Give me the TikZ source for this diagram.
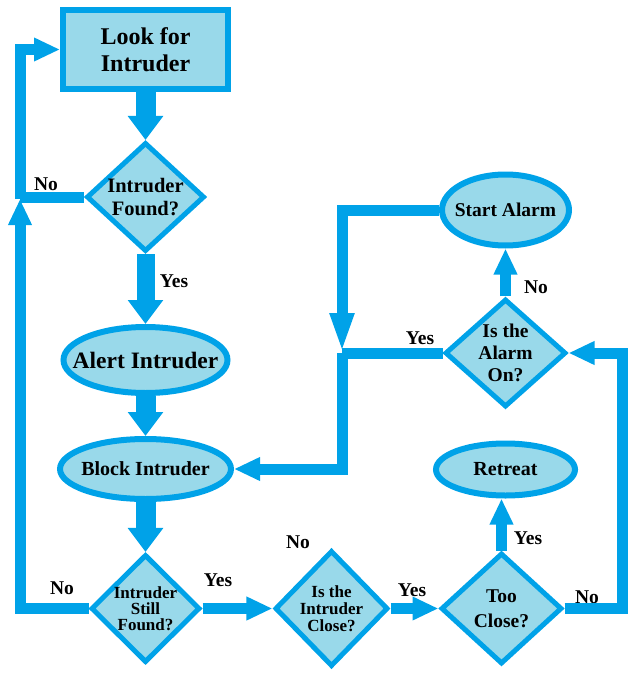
\documentclass[tikz,border=0pt]{standalone}
\usepackage{fontspec}
\setmainfont{Liberation Serif}
\usepackage{tikz}
\usetikzlibrary{shapes.geometric,arrows.meta,positioning,calc}
\definecolor{paintblue}{RGB}{0,162,232}
\definecolor{paintfill}{RGB}{153,217,234}
\newcommand{\fsz}[2]{\fontsize{#1}{#2}\selectfont\bfseries}
\tikzset{
  stepbox/.style={rectangle,draw=paintblue,line width=6pt,fill=paintfill,align=center,inner sep=0pt},
  oval/.style={ellipse,draw=paintblue,line width=6pt,fill=paintfill,align=center,inner ysep=0pt,inner xsep=-16pt},
  decide/.style={diamond,draw=paintblue,line width=5pt,fill=paintfill,align=center,inner sep=0pt},
  lbl/.style={font=\fsz{19.5}{21}},
  bigflow/.style={-{Triangle[length=24pt,width=34pt]},line width=20pt,draw=paintblue},
  flow/.style={-{Triangle[length=26pt,width=22pt]},line width=11pt,draw=paintblue},
  flowline/.style={line width=11pt,draw=paintblue},
}

\begin{document}
\begin{tikzpicture}[x=1pt,y=-1pt]
  \useasboundingbox (0,0) rectangle (628,674);
  \node[stepbox,minimum width=165pt,minimum height=79pt,font=\fsz{24}{27}] (look) at (145.5,49.5) {Look for\\Intruder};
  \node[decide,minimum width=118pt,minimum height=109pt,aspect=1.08,font=\fsz{20.5}{23},below=48pt of look] (found) {Intruder\\Found?};
  \node[oval,minimum width=164pt,minimum height=66pt,font=\fsz{23.5}{26},below=70pt of found] (alert) {Alert Intruder};
  \node[oval,minimum width=171pt,minimum height=60pt,font=\fsz{20}{22},below=40pt of alert] (block) {Block Intruder};
  \node[decide,minimum width=109pt,minimum height=108pt,font=\fsz{17}{16},below=50pt of block] (still) {Intruder\\Still\\Found?};
  \node[decide,minimum width=113pt,minimum height=116pt,font=\fsz{17}{17},right=70pt of still] (close) {Is the\\Intruder\\Close?};
  \node[decide,minimum width=121pt,minimum height=111pt,font=\fsz{19.5}{25},right=48pt of close] (too) {Too\\Close?};
  \node[oval,minimum width=139pt,minimum height=52pt,font=\fsz{20}{22},above=52pt of too,xshift=4pt] (retreat) {Retreat};
  \node[decide,minimum width=121pt,minimum height=108pt,aspect=1.12,font=\fsz{19.5}{22},above=31pt of retreat] (alarmon) {Is the\\Alarm\\On?};
  \node[oval,minimum width=127pt,minimum height=71pt,font=\fsz{19.5}{21},above=48pt of alarmon] (start) {Start Alarm};

  % yes / no labels
  \node[lbl] (nofound) at (46,184) {No};
  \node[lbl] (yesfound) at (174,281) {Yes};
  \node[lbl] (nostill) at (62,588) {No};
  \node[lbl] (yesstill) at (218,580) {Yes};
  \node[lbl] (noclose) at (298,542) {No};
  \node[lbl] (yesclose) at (412,590) {Yes};
  \node[lbl] (yestoo) at (528,538) {Yes};
  \node[lbl] (notoo) at (587,597) {No};
  \node[lbl] (yesalarm) at (420,338) {Yes};
  \node[lbl] (noalarm) at (536,287) {No};

  \coordinate (loopup) at (20,199);
  \coordinate (railx) at (342,0);
  \coordinate (rightrail) at (622,0);
  \coordinate (alarmjoin) at (alarmon.west -| railx);

  \draw[bigflow] (look) -- (found);
  \draw[bigflow,line width=18pt] (found) -- (alert);
  \draw[bigflow] (alert) -- (block);
  \draw[bigflow] (block) -- (still);
  \draw[flow] (still) -- (close);
  \draw[flow] (close) -- (too);
  \draw[flow] (too.north) -- (too.north |- retreat.south);
  \draw[flow] (alarmon) -- (start);
  \draw[flow] (still.west) -| (loopup);
  \draw[flow] (loopup) |- (look.west);
  \draw[flowline] (found.west) -- (found.west -| loopup);
  \draw[flow,-{Triangle[length=40pt,width=22pt]}] (start.west) -| (alarmjoin);
  \draw[flowline] (alarmon.west) -- (alarmjoin);
  \draw[flow] (alarmjoin) |- (block.east);
  \draw[flow] (too.east) -- (too.east -| rightrail) |- (alarmon.east);
\end{tikzpicture}
\end{document}
